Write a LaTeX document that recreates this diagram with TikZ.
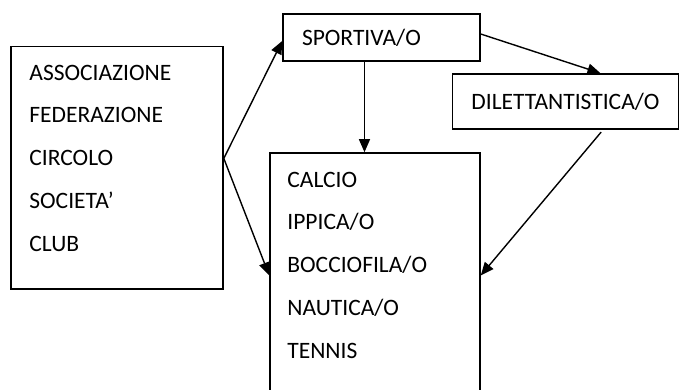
\documentclass[tikz,border=0pt]{standalone}
\usepackage{fontspec}
\setmainfont{Carlito}
\usetikzlibrary{positioning,arrows.meta}

\begin{document}
\begin{tikzpicture}[x=1pt,y=1pt,
    box/.style={draw, line width=1.6pt, inner xsep=19pt, inner ysep=0pt, align=left,
      font=\fontsize{23.5}{42.75}\selectfont},
    elenco/.style={inner sep=0pt, align=left, font=\fontsize{23.5}{42.75}\selectfont},
    freccia/.style={-{Triangle[length=13pt,width=11pt]}, line width=1.4pt}]
  % Page frame
  \clip (0,0) rectangle (685,389);

  % Boxes
  \node[box, minimum width=212pt, minimum height=242.5pt] (enti) at (117,221.25) {};
  \node[box, text width=159pt, minimum height=47pt] (sportiva) at (381.5,351.5) {SPORTIVA/O};
  \node[box, minimum width=221pt, minimum height=55pt] (dilettantistica) at (565.5,287.5) {DILETTANTISTICA/O};
  \node[box, minimum width=210pt, minimum height=267pt] (discipline) at (375,102.5) {};

  % Lists inside the big boxes
  \node[elenco, below right=19pt and 19pt of enti.north west] (enti-voci)
    {ASSOCIAZIONE\\FEDERAZIONE\\CIRCOLO\\SOCIETA'\\CLUB};
  \node[elenco, below right=19.5pt and 18pt of discipline.north west] (disc-voci)
    {CALCIO\\IPPICA/O\\BOCCIOFILA/O\\NAUTICA/O\\TENNIS};

  % Arrows
  \draw[freccia] (enti.5) -- (sportiva.182);
  \draw[freccia] (enti.5) -- (discipline.174);
  \draw[freccia] (sportiva.235) -- (sportiva.235 |- discipline.north);
  \draw[freccia] (sportiva.2) -- (dilettantistica.39);
  \draw[freccia, shorten <=3pt] (dilettantistica.323) -- (discipline.6);
\end{tikzpicture}
\end{document}
